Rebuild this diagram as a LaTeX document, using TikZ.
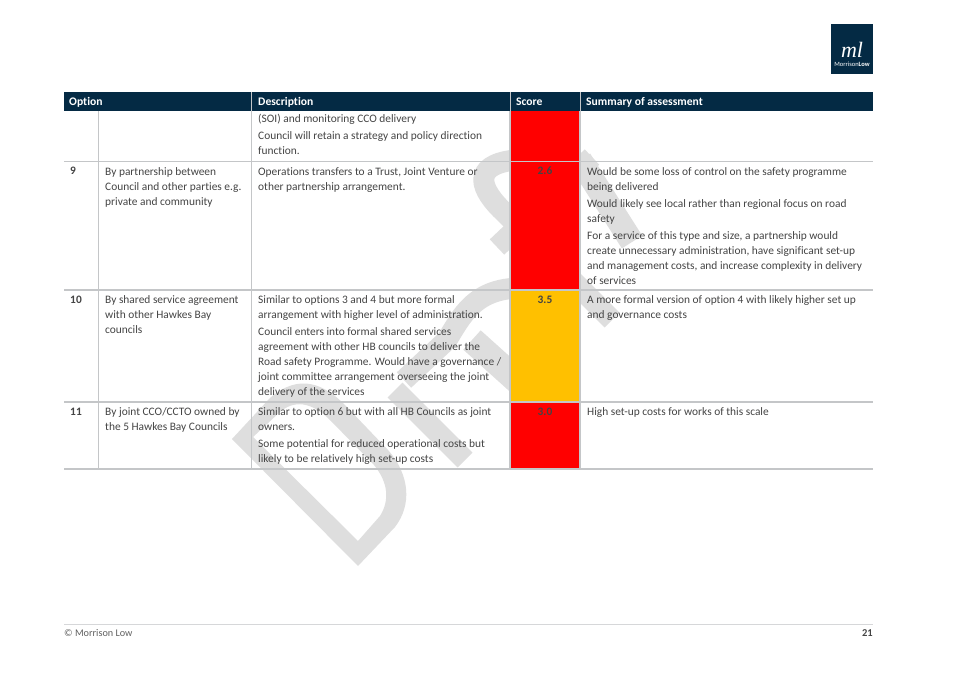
\documentclass[tikz,border=0pt]{standalone}
\usepackage{fontspec}
\setmainfont[Ligatures=NoCommon]{Carlito}
\newfontfamily\logofont{Liberation Serif}
\definecolor{navy}{HTML}{042A44}
\definecolor{rulegrey}{HTML}{C4C6C8}
\definecolor{txt}{HTML}{444444}
\definecolor{wm}{HTML}{DEDEDE}
\definecolor{amber}{HTML}{FFC000}
\tikzset{
 cell/.style={anchor=north west,inner sep=0pt,text=txt,font=\fontsize{11.4}{15}\selectfont,align=left},
 head/.style={anchor=base west,inner sep=0pt,text=white,font=\fontsize{11.6}{15}\selectfont\bfseries},
 num/.style={anchor=north,inner sep=0pt,text=txt,font=\fontsize{11.4}{15}\selectfont\bfseries},
 gridline/.style={draw=rulegrey,line width=1.1pt},
 wmstroke/.style={draw=wm,line width=21pt,line join=round},
}
\begin{document}
\begin{tikzpicture}[x=1pt,y=-1pt]
\useasboundingbox (0,0) rectangle (954,674);
\fill[white] (0,0) rectangle (954,674);
% watermark: D
\fill[wm,even odd rule] (358,566) -- (232,439) -- (270,398) .. controls (300,372) and (325,385) .. (345,405) -- (388,450) .. controls (410,475) and (412,505) .. (395,527) -- cycle
 (358,541) -- (253,437) -- (281,411) .. controls (298,398) and (315,405) .. (331,421) -- (374,465) .. controls (388,482) and (390,500) .. (380,516) -- cycle;
% r stem and arm, a, f, t
\draw[wmstroke] (465,460) -- (395,390);
\draw[wmstroke] (404,380) -- (447,340) .. controls (465,310) and (480,280) .. (545,290);
\draw[wmstroke,line width=26pt] (472,340) -- (522,385);
\draw[wmstroke] (612,320) -- (505,213) .. controls (480,190) and (470,165) .. (515,160);
\draw[wmstroke] (497,247) -- (592,157);
\draw[wmstroke,line width=24pt] (580,160) -- (632,242);
% fills
\fill[red] (510,111) rectangle (580,290);
\fill[amber] (510,290) rectangle (580,402);
\fill[red] (510,402) rectangle (580,469);
% header
\fill[navy] (64,92) rectangle (873,111);
\draw[rulegrey,line width=.8pt] (251.5,92) -- (251.5,111) (510,92) -- (510,111) (580,92) -- (580,111);
\node[head] (hOpt) at (69,105.5) {Option};
\node[head] (hDesc) at (258,105.5) {Description};
\node[head] (hScore) at (516,105.5) {Score};
\node[head] (hSum) at (586,105.5) {Summary of assessment};
% grid
\draw[gridline] (64,161.5) -- (873,161.5) (64,290) -- (873,290) (64,402) -- (873,402) (64,469) -- (873,469);
\draw[gridline] (98.5,111) -- (98.5,469) (251.5,111) -- (251.5,469) (510,111) -- (510,469) (580,111) -- (580,469);
% row 8 continued
\node[cell] (d8a) at (258,114) {(SOI) and monitoring CCO delivery};
\node[cell] (d8b) at (258,131) {Council will retain a strategy and policy direction\\function.};
% row 9
\node[num] (n9) at (73,167) {9};
\node[cell] (o9) at (105,167) {By partnership between\\Council and other parties e.g.\\private and community};
\node[cell] (d9) at (258,167) {Operations transfers to a Trust, Joint Venture or\\other partnership arrangement.};
\node[num] (s9) at (545,167) {2.6};
\node[cell] (a9a) at (587,167) {Would be some loss of control on the safety programme\\being delivered};
\node[cell] (a9b) at (587,199) {Would likely see local rather than regional focus on road\\safety};
\node[cell] (a9c) at (587,231) {For a service of this type and size, a partnership would\\create unnecessary administration, have significant set-up\\and management costs, and increase complexity in delivery\\of services};
% row 10
\node[num] (n10) at (76,295.5) {10};
\node[cell] (o10) at (105,295.5) {By shared service agreement\\with other Hawkes Bay\\councils};
\node[cell] (d10a) at (258,295.5) {Similar to options 3 and 4 but more formal\\arrangement with higher level of administration.};
\node[cell] (d10b) at (258,327.5) {Council enters into formal shared services\\agreement with other HB councils to deliver the\\Road safety Programme. Would have a governance /\\joint committee arrangement overseeing the joint\\delivery of the services};
\node[num] (s10) at (545,295.5) {3.5};
\node[cell] (a10) at (587,295.5) {A more formal version of option 4 with likely higher set up\\and governance costs};
% row 11
\node[num] (n11) at (76,407.5) {11};
\node[cell] (o11) at (105,407.5) {By joint CCO/CCTO owned by\\the 5 Hawkes Bay Councils};
\node[cell] (d11a) at (258,407.5) {Similar to option 6 but with all HB Councils as joint\\owners.};
\node[cell] (d11b) at (258,439.5) {Some potential for reduced operational costs but\\likely to be relatively high set-up costs};
\node[num] (s11) at (545,407.5) {3.0};
\node[cell] (a11) at (587,407.5) {High set-up costs for works of this scale};
% logo
\fill[navy] (831,24) rectangle (873,74);
\node[inner sep=0pt,text=white,font=\logofont\fontsize{22}{22}\selectfont\itshape] (logoM) at (852,49.5) {ml};
\node[inner sep=0pt,text=white,font=\fontsize{6.5}{7}\selectfont] (logoT) at (852,64.5) {Morrison\textbf{Low}};
% footer
\draw[draw=rulegrey!70,line width=.8pt] (64,624) -- (873,624);
\node[anchor=west,inner sep=0pt,text=txt!85,font=\fontsize{10.2}{12}\selectfont] (fl) at (64,633) {© Morrison Low};
\node[anchor=east,inner sep=0pt,text=txt,font=\fontsize{10.5}{12}\selectfont\bfseries] (fr) at (873,633) {21};
\end{tikzpicture}
\end{document}
